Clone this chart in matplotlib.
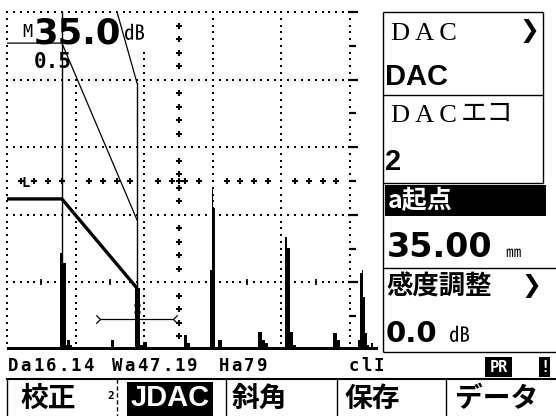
# Flaw detector A-scan screen (DAC setup page) redrawn with matplotlib.

import matplotlib
matplotlib.use("Agg")
import matplotlib.pyplot as plt
import numpy as np
from matplotlib.patches import Rectangle
from matplotlib.path import Path

# Data
## A-scan echo trace (x: % of the 5-division screen width, amp: % of screen height)
trace_x = [0.0, 15.5, 16.3, 17.2, 17.6, 18.4, 19.0, 30.4, 31.2, 37.2, 38.8, 39.7, 40.8,
           51.6, 52.5, 53.4, 59.2, 59.7, 60.2, 60.7, 61.5, 62.7, 73.2, 74.3, 75.2, 76.0,
           81.0, 81.6, 82.5, 83.4, 84.3, 95.0, 96.2, 97.1, 102.3, 102.9, 103.4, 103.9,
           104.4, 105.0, 105.6, 106.2, 106.8, 108.2]
trace_amp = [0.8, 28.7, 25.7, 1.5, 3.0, 1.5, 0.8, 3.0, 0.8, 18.3, 1.5, 2.5, 0.8,
             4.4, 2.1, 0.8, 23.7, 47.9, 42.0, 0.8, 3.0, 0.8, 5.3, 3.0, 2.1, 0.8,
             33.4, 30.2, 5.3, 1.5, 0.8, 5.0, 3.0, 0.8, 3.0, 22.8, 23.7, 15.7,
             5.0, 1.5, 0.8, 2.0, 0.8, 0.8]

## DAC curve (thick) and the two thin companion curves
dac_x = [0.0, 16.0, 37.9]
dac_amp = [44.7, 44.7, 18.3]
dac_mid_x = [0.0, 16.0, 37.9]
dac_mid_amp = [90.8, 90.8, 38.5]
dac_hi_x = [16.0, 37.9]
dac_hi_amp = [158.0, 79.0]

## cursors and gate
cursor_a_x, cursor_a_top = 16.0, 100.0
cursor_b_x, cursor_b_top = 37.9, 79.0
gate_start, gate_end, gate_level = 27.1, 48.4, 9.2
peak_mark_amp = [13.3, 11.2]

## readouts and menu texts
gain_text = "35.0"
ref_text = "0.5"
status_items = [("Da16.14", 13), ("Wa47.19", 117), ("Ha79", 224), ("clI", 354)]
menu_items = [("校正", 20), ("斜角", 232), ("保存", 345), ("データ", 455)]
menu_active = "JDAC"

CJK = ['Noto Sans CJK JP', 'DejaVu Sans']

# Figure: background axes in screen pixels for the frame and panels
W, H = 556, 416
fig = plt.figure(figsize=(W / 100, H / 100), dpi=100)
ax = fig.add_axes([0, 0, 1, 1])
ax.set_xlim(0, W)
ax.set_ylim(H, 0)
ax.axis('off')

# A-scan axes: grid spans 343 px wide (x 7..350), trace runs on to x 378
sc_l, sc_r, sc_t, sc_b = 7, 378, 12, 350
grid_px = 343
sc = fig.add_axes([sc_l / W, 1 - sc_b / H, (sc_r - sc_l) / W, (sc_b - sc_t) / H])
sc.set_xlim(0, 100 * (sc_r - sc_l) / grid_px)
sc.set_ylim(0, 100)
sc.axis('off')
sc.patch.set_alpha(0)

## dotted grid
dot = dict(ls='none', marker='s', ms=1.6, mew=0, color='black', clip_on=False, zorder=1)
for gx in [0, 20, 40, 60, 80, 100]:
    yy = np.arange(2, 101, 2)
    sc.plot(np.full(len(yy), gx), yy, **dot)
for gy in [20, 40, 60, 80, 100]:
    xx = np.arange(0, 101, 2)
    sc.plot(xx, np.full(len(xx), gy), **dot)

## centre cross axes
cx = [v for v in range(4, 101, 4) if v % 20]
sc.plot(cx + [50], [50] * (len(cx) + 1), ls='none', marker='+', ms=4.2, mew=1.5,
        color='black', zorder=1)
sc.plot([50] * len(cx), cx, ls='none', marker='+', ms=4.2, mew=1.5, color='black', zorder=1)

## ticks on 20% line and right-hand scale
sc.plot([10, 30, 70, 90], [20] * 4, ls='none', marker='|', ms=4, mew=1.2, color='black')
for a in range(10, 101, 10):
    sc.plot([100.8], [a], marker='_', ms=7 if a % 20 == 0 else 4.5, mew=1.6,
            color='black', clip_on=False)

## white areas behind the gain readout
for (x, y, w, h) in [(15, 14, 132, 34), (10, 48, 70, 31)]:
    sc.add_patch(Rectangle((x, y), w, h, transform=ax.transData, facecolor='white',
                           edgecolor='none', zorder=2, clip_on=False))

sc.text(22, 37, "M", transform=ax.transData, fontsize=12, family='DejaVu Sans Mono',
        va='baseline', zorder=3)
sc.text(34, 43, gain_text, transform=ax.transData, fontsize=25.5, weight='bold',
        family='DejaVu Sans', va='baseline', zorder=3)
sc.text(124, 40, "㏈", transform=ax.transData, fontsize=15, family=CJK,
        va='baseline', zorder=3)
sc.text(34, 68, ref_text, transform=ax.transData, fontsize=15, weight='bold',
        family='DejaVu Sans Mono', va='baseline', zorder=3)
sc.text(5.5, 49.5, "L", fontsize=10, weight='bold', family='DejaVu Sans Mono',
        ha='center', va='center', zorder=3)

## echoes
sc.fill_between(trace_x, 0, trace_amp, step='post', color='black', lw=0, zorder=4)

## DAC curves and cursors
sc.plot(dac_x, dac_amp, color='black', lw=2.4, solid_capstyle='butt', zorder=5)
sc.plot(dac_mid_x, dac_mid_amp, color='black', lw=0.9, zorder=5)
sc.plot(dac_hi_x, dac_hi_amp, color='black', lw=0.9, zorder=5)
sc.plot([cursor_a_x] * 2, [0, cursor_a_top], color='black', lw=1.0, zorder=5)
sc.plot([cursor_b_x] * 2, [0, cursor_b_top], color='black', lw=1.0, zorder=5)
sc.plot([cursor_b_x] * 2, peak_mark_amp, ls='none', marker='+', ms=4, mew=2,
        color='black', zorder=5)

## gate with end marks
sc.plot([gate_start, gate_end], [gate_level] * 2, color='black', lw=0.9, zorder=5)
tip_r = Path([(-1, 1), (0, 0), (-1, -1)], [Path.MOVETO, Path.LINETO, Path.LINETO])
tip_l = Path([(1, 1), (0, 0), (1, -1)], [Path.MOVETO, Path.LINETO, Path.LINETO])
sc.plot([gate_start], [gate_level], marker=tip_r, ms=6, mew=0.9, mfc='none',
        color='black', zorder=5)
sc.plot([gate_end], [gate_level], marker=tip_l, ms=6, mew=0.9, mfc='none',
        color='black', zorder=5)

# Right-hand menu panel
line = dict(color='black', lw=1.0, solid_capstyle='butt')
ax.plot([383, 383], [12, 352], **line)
ax.plot([383, 543], [12, 12], **line)
ax.plot([543, 543], [12, 183], **line)
ax.plot([383, 543], [95, 95], **line)
ax.plot([383, 543], [183, 183], **line)
ax.plot([383, 556], [268, 268], **line)
ax.plot([383, 556], [352, 352], **line)

ax.text(391, 40, "D A C", fontsize=19, family='Liberation Serif', va='baseline')
ax.text(519, 31, "❯", fontsize=17, weight='bold', family='DejaVu Sans', va='center')
ax.text(385, 85, "DAC", fontsize=21, weight='bold', family='Liberation Sans', va='baseline')
ax.text(391, 122, "D A C", fontsize=19, family='Liberation Serif', va='baseline')
ax.text(461, 121, "エコ", fontsize=19, family=CJK, va='baseline')
ax.text(385, 170, "2", fontsize=21, weight='bold', family='Liberation Sans', va='baseline')

ax.add_patch(Rectangle((385, 185), 161, 31, facecolor='black', edgecolor='none'))
ax.text(388, 201, "a起点", fontsize=18, weight='bold', family=CJK, color='white',
        va='center')
ax.text(387, 257, "35.00", fontsize=24, weight='bold', family='DejaVu Sans', va='baseline')
ax.text(505, 257, "㎜", fontsize=11, family=CJK, va='baseline')
ax.text(386, 287, "感度調整", fontsize=19, weight='bold', family=CJK, va='center')
ax.text(521, 286, "❯", fontsize=17, weight='bold', family='DejaVu Sans', va='center')
ax.text(386, 342, "0.0", fontsize=21, weight='bold', family='DejaVu Sans', va='baseline')
ax.text(449, 342, "㏈", fontsize=15, family=CJK, va='baseline')

# Status line
for s, x0 in status_items:
    for i, ch in enumerate(s):
        ax.text(x0 + i * 12.6, 366, ch, fontsize=12.5, weight='bold',
                family='DejaVu Sans Mono', ha='center', va='center')
ax.add_patch(Rectangle((485, 357), 27, 20, facecolor='black', edgecolor='none'))
ax.text(498.5, 367, "PR", fontsize=11, weight='bold', family='DejaVu Sans Mono',
        color='white', ha='center', va='center')
ax.add_patch(Rectangle((539, 357), 11, 20, facecolor='black', edgecolor='none'))
ax.text(544.5, 367, "!", fontsize=11, weight='bold', family='DejaVu Sans Mono',
        color='white', ha='center', va='center')

# Soft-key row
ax.plot([7, 556], [379, 379], color='black', lw=1.5)
ax.plot([7, 7], [379, 416], **line)
for xs in [226, 337, 446]:
    ax.plot([xs, xs], [379, 416], **line)
ax.plot([117, 117], [379, 416], color='black', lw=1.0, ls=(0, (3, 2)))
ax.text(111, 396, "2", fontsize=8, weight='bold', family='DejaVu Sans Mono',
        ha='center', va='center')
ax.add_patch(Rectangle((127, 382), 86, 34, facecolor='black', edgecolor='none'))
ax.text(170, 398, menu_active, fontsize=21, weight='bold', family='Liberation Sans',
        color='white', ha='center', va='center')
for s, x0 in menu_items:
    ax.text(x0, 399, s, fontsize=20, weight='bold', family=CJK, va='center')

fig.savefig("out.png", dpi=100)
